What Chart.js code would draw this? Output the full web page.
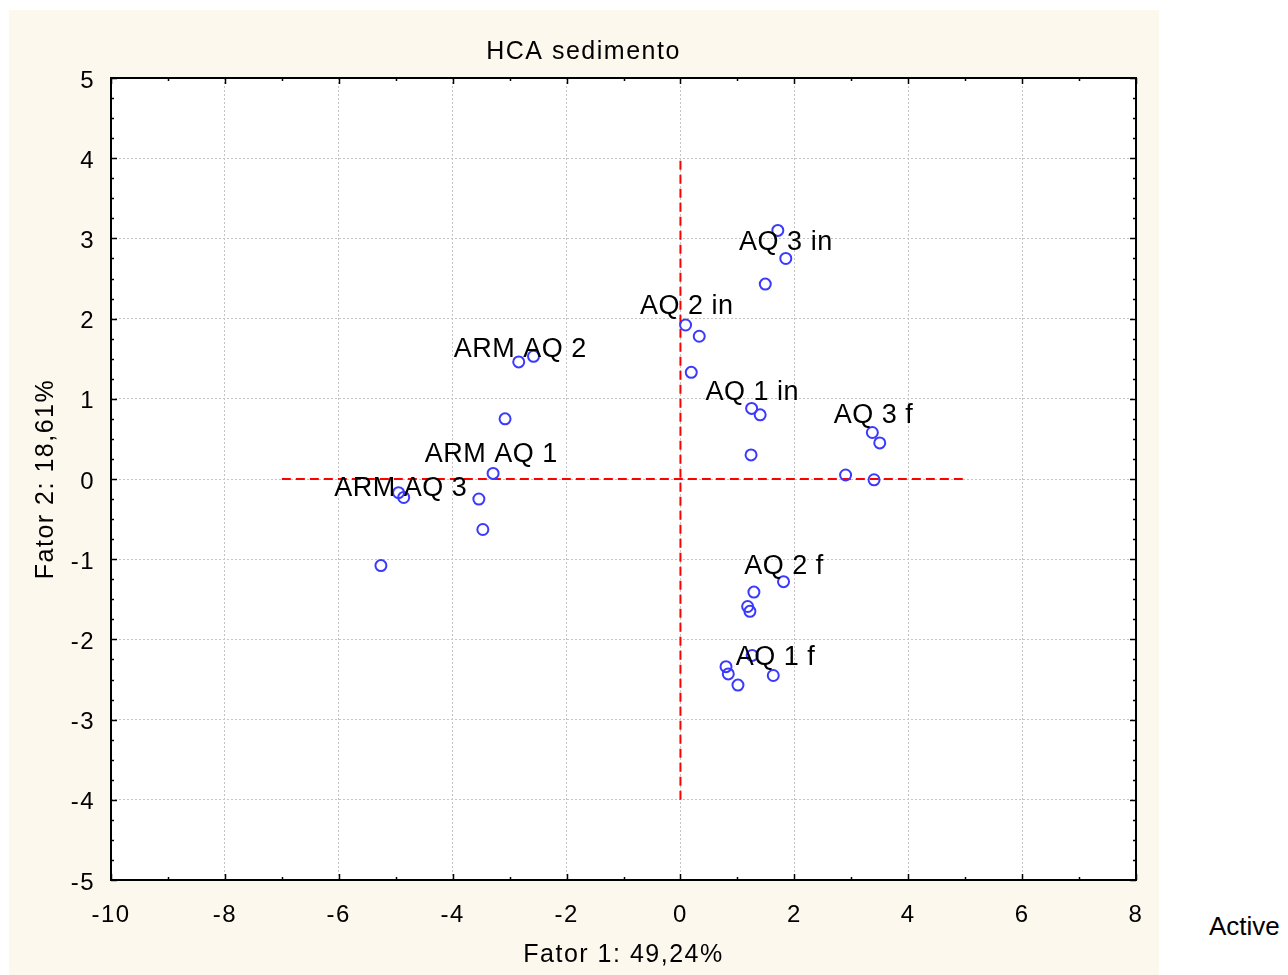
<!DOCTYPE html>
<html>
<head>
<meta charset="utf-8">
<script src="https://cdn.jsdelivr.net/npm/chart.js@4"></script>
<style>
  html, body { margin: 0; padding: 0; background: #ffffff; width: 1288px; height: 975px; overflow: hidden; }
  #wrap { position: absolute; left: 9px; top: 10px; width: 1150px; height: 965px; background: #fdf8ee; }
  #active { position: absolute; left: 1209px; top: 911px; font: 26px "Liberation Sans", Arial, sans-serif; line-height: 30px; color: #000; }
</style>
</head>
<body>
<div id="wrap"><canvas id="c" width="1150" height="965"></canvas></div>
<div id="active">Active</div>
<script>
// ---- data ----
const factor1 = [1.71, 1.85, 1.49, 0.09, 0.33, 0.19, 1.25, 1.40, 1.24, 3.37, 3.50, 2.90, 3.40,
                 1.81, 1.29, 1.18, 1.22, 1.26, 0.80, 0.84, 1.01, 1.63,
                 -2.58, -2.84, -3.08, -3.29, -3.54, -3.47, -4.95, -4.86, -5.26];
const factor2 = [3.10, 2.75, 2.43, 1.92, 1.78, 1.33, 0.88, 0.80, 0.30, 0.58, 0.45, 0.05, -0.01,
                 -1.28, -1.41, -1.59, -1.65, -2.20, -2.34, -2.43, -2.57, -2.45,
                 1.53, 1.46, 0.75, 0.07, -0.25, -0.63, -0.17, -0.23, -1.08];
const groupNames = ["AQ 3 in", "AQ 2 in", "ARM AQ 2", "AQ 1 in", "AQ 3 f", "ARM AQ 1", "ARM AQ 3", "AQ 2 f", "AQ 1 f"];
const groupLabelX = [1.03, -0.71, -3.98, 0.44, 2.69, -4.49, -6.08, 1.12, 0.97];
const groupLabelY = [2.86, 2.06, 1.52, 0.99, 0.70, 0.21, -0.21, -1.19, -2.32];
const hLineX = [-7, 5];   // horizontal reference line at Fator 2 = 0
const vLineY = [-4, 4];   // vertical reference line at Fator 1 = 0
const xTicks = [-10, -8, -6, -4, -2, 0, 2, 4, 6, 8];
const yTicks = [-5, -4, -3, -2, -1, 0, 1, 2, 3, 4, 5];
const titleText = "HCA sedimento";
const xTitle = "Fator 1: 49,24%";
const yTitle = "Fator 2: 18,61%";

const FONT = '"Liberation Sans", Arial, sans-serif';

const points = factor1.map((x, i) => ({ x: x, y: factor2[i] }));

const bgPlugin = {
  id: 'bg',
  beforeDraw(chart) {
    const ctx = chart.ctx;
    ctx.letterSpacing = '1.5px';
    const a = chart.chartArea;
    ctx.save();
    ctx.fillStyle = '#ffffff';
    ctx.fillRect(a.left, a.top, a.right - a.left, a.bottom - a.top);
    ctx.restore();
  }
};

const labelPlugin = {
  id: 'labels',
  afterDatasetsDraw(chart) {
    const ctx = chart.ctx, xs = chart.scales.x, ys = chart.scales.y;
    ctx.save();
    ctx.letterSpacing = '0.5px';
    ctx.font = '27px ' + FONT;
    ctx.fillStyle = '#000';
    ctx.textAlign = 'left';
    ctx.textBaseline = 'alphabetic';
    groupNames.forEach((n, i) => {
      ctx.fillText(n, xs.getPixelForValue(groupLabelX[i]), ys.getPixelForValue(groupLabelY[i]));
    });
    ctx.restore();
  }
};

const framePlugin = {
  id: 'frame',
  afterDraw(chart) {
    const ctx = chart.ctx, a = chart.chartArea, xs = chart.scales.x, ys = chart.scales.y;
    ctx.save();
    ctx.strokeStyle = '#000';
    ctx.lineWidth = 1.5;
    ctx.beginPath();
    // x ticks: major every 2, minor every 1
    for (let v = xs.min; v <= xs.max + 1e-9; v += 1) {
      const px = Math.round(xs.getPixelForValue(v)) + 0.5;
      const len = (Math.round(v) % 2 === 0) ? 6 : 3;
      ctx.moveTo(px, a.bottom); ctx.lineTo(px, a.bottom - len);
      ctx.moveTo(px, a.top); ctx.lineTo(px, a.top + len);
    }
    // y ticks: major every 1, minor every 0.25
    for (let k = 0; k <= (ys.max - ys.min) * 4; k++) {
      const v = ys.min + k * 0.25;
      const py = Math.round(ys.getPixelForValue(v)) + 0.5;
      const len = (k % 4 === 0) ? 6 : 3;
      ctx.moveTo(a.left, py); ctx.lineTo(a.left + len, py);
      ctx.moveTo(a.right, py); ctx.lineTo(a.right - len, py);
    }
    ctx.stroke();
    ctx.lineWidth = 2;
    ctx.strokeRect(a.left, a.top, a.right - a.left, a.bottom - a.top);
    ctx.restore();
  }
};

new Chart(document.getElementById('c'), {
  type: 'scatter',
  data: {
    datasets: [
      {
        label: 'points',
        data: points,
        showLine: false,
        pointStyle: 'circle',
        pointRadius: 5.5,
        pointHoverRadius: 5.5,
        pointBorderWidth: 2,
        pointBorderColor: '#3a3aff',
        pointBackgroundColor: 'rgba(0,0,0,0)'
      },
      {
        label: 'h0',
        data: hLineX.map(x => ({ x: x, y: 0 })),
        showLine: true,
        pointRadius: 0,
        borderColor: '#ff0000',
        borderWidth: 2,
        borderDash: [9, 5]
      },
      {
        label: 'v0',
        data: vLineY.map(y => ({ x: 0, y: y })),
        showLine: true,
        pointRadius: 0,
        borderColor: '#ff0000',
        borderWidth: 2,
        borderDash: [9, 5]
      }
    ]
  },
  options: {
    responsive: false,
    animation: false,
    events: [],
    layout: { padding: { left: 22, right: 23, top: 0, bottom: 0 } },
    plugins: {
      legend: { display: false },
      tooltip: { enabled: false },
      title: {
        display: true,
        text: titleText,
        color: '#000',
        font: { family: FONT, size: 25, weight: 'normal' },
        padding: { top: 27, bottom: 11 }
      }
    },
    scales: {
      x: {
        type: 'linear',
        min: -10, max: 8,
        afterBuildTicks(s) { s.ticks = xTicks.map(v => ({ value: v })); },
        afterFit(s) { s.height = 95; s.paddingLeft = 0; s.paddingRight = 0; },
        ticks: {
          color: '#000',
          font: { family: FONT, size: 24 },
          padding: 21,
          maxRotation: 0,
          autoSkip: false,
          callback: v => String(v)
        },
        grid: { color: '#c4c4c4', lineWidth: 1, drawTicks: false },
        border: { display: false, dash: [2, 2] },
        title: {
          display: true,
          text: xTitle,
          color: '#000',
          font: { family: FONT, size: 25 },
          padding: { top: 0, bottom: 5 }
        }
      },
      y: {
        type: 'linear',
        min: -5, max: 5,
        afterBuildTicks(s) { s.ticks = yTicks.map(v => ({ value: v })); },
        afterFit(s) { s.width = 80; s.paddingTop = 0; s.paddingBottom = 0; },
        ticks: {
          color: '#000',
          font: { family: FONT, size: 24 },
          padding: 16,
          labelOffset: 3,
          autoSkip: false,
          callback: v => String(v)
        },
        grid: { color: '#c4c4c4', lineWidth: 1, drawTicks: false },
        border: { display: false, dash: [2, 2] },
        title: {
          display: true,
          text: yTitle,
          color: '#000',
          font: { family: FONT, size: 25 },
          padding: { top: 0, bottom: 0 }
        }
      }
    }
  },
  plugins: [bgPlugin, labelPlugin, framePlugin]
});
</script>
</body>
</html>
